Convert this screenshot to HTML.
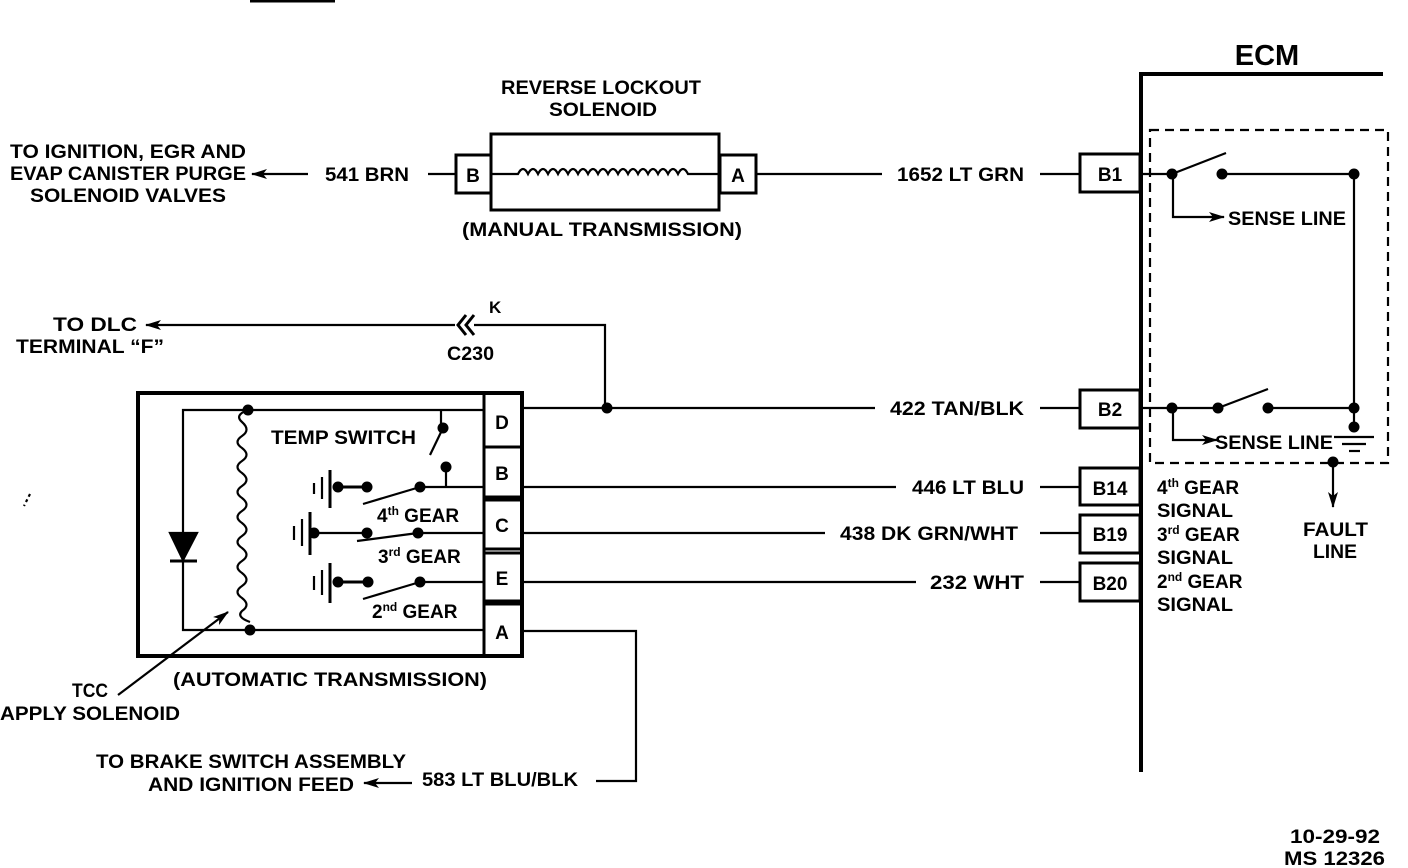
<!DOCTYPE html>
<html><head><meta charset="utf-8"><style>
html,body{margin:0;padding:0;background:#fff;}
svg{display:block;}
text{font-family:"Liberation Sans",sans-serif;font-weight:bold;font-size:19px;fill:#000;}
</style></head><body>
<svg width="1408" height="868" viewBox="0 0 1408 868" xmlns="http://www.w3.org/2000/svg">
<defs>
<marker id="ah" markerWidth="16" markerHeight="10" refX="15" refY="5" orient="auto" markerUnits="userSpaceOnUse">
<path d="M0,0 L16,5 L0,10 L4,5 Z" fill="#000"/></marker>
</defs>
<g stroke="#000" fill="none" stroke-width="2.2">
<line x1="250" y1="1" x2="335" y2="1" stroke-width="3"/>
<line x1="1139" y1="74" x2="1383" y2="74" stroke-width="4"/>
<line x1="1141" y1="72" x2="1141" y2="772" stroke-width="4"/>
<rect x="1150" y="130" width="238" height="333" stroke-dasharray="9,6"/>
<rect x="1080" y="154" width="60" height="38" stroke-width="3"/>
<line x1="1040" y1="174" x2="1080" y2="174"/>
<line x1="1141" y1="174" x2="1172" y2="174"/>
<line x1="1172" y1="174" x2="1226" y2="153"/>
<line x1="1222" y1="174" x2="1354" y2="174"/>
<line x1="1354" y1="174" x2="1354" y2="428"/>
<polyline points="1173,174 1173,217 1224,217" marker-end="url(#ah)"/>
<rect x="1080" y="390" width="60" height="38" stroke-width="3"/>
<line x1="1040" y1="408" x2="1080" y2="408"/>
<line x1="1141" y1="408" x2="1218" y2="408"/>
<line x1="1218" y1="408" x2="1268" y2="389"/>
<line x1="1268" y1="408" x2="1354" y2="408"/>
<polyline points="1173,408 1173,440 1217,440" marker-end="url(#ah)"/>
<line x1="1334" y1="437" x2="1374" y2="437"/>
<line x1="1342" y1="444" x2="1366" y2="444"/>
<line x1="1349" y1="451" x2="1360" y2="451"/>
<line x1="1333" y1="462" x2="1333" y2="507" marker-end="url(#ah)"/>
<rect x="1080" y="468" width="60" height="37" stroke-width="3"/>
<rect x="1080" y="515" width="60" height="38" stroke-width="3"/>
<rect x="1080" y="563" width="60" height="38" stroke-width="3"/>
<line x1="1040" y1="487" x2="1080" y2="487"/>
<line x1="1040" y1="533" x2="1080" y2="533"/>
<line x1="1040" y1="582" x2="1080" y2="582"/>
<rect x="491" y="134" width="228" height="76" stroke-width="3"/>
<rect x="456" y="155" width="35" height="38" stroke-width="3"/>
<rect x="720" y="155" width="36" height="38" stroke-width="3"/>
<line x1="428" y1="174" x2="456" y2="174"/>
<line x1="756" y1="174" x2="882" y2="174"/>
<path d="M491,174 H518 q5,-10 10,0 q5,-10 10,0 q5,-10 10,0 q5,-10 10,0 q5,-10 10,0 q5,-10 10,0 q5,-10 10,0 q5,-10 10,0 q5,-10 10,0 q5,-10 10,0 q5,-10 10,0 q5,-10 10,0 q5,-10 10,0 q5,-10 10,0 q5,-10 10,0 q5,-10 10,0 q5,-10 10,0 H719"/>
<line x1="308" y1="174" x2="252" y2="174" marker-end="url(#ah)"/>
<line x1="455" y1="325" x2="146" y2="325" marker-end="url(#ah)"/>
<path d="M466,315 L458,325 L466,335 M474,315 L466,325 L474,335" stroke-width="3"/>
<polyline points="474,325 605,325 605,408"/>
<rect x="138" y="393" width="384" height="263" stroke-width="4"/>
<line x1="484" y1="393" x2="484" y2="656" stroke-width="3"/>
<rect x="484" y="447" width="38" height="50" stroke-width="3"/>
<rect x="484" y="500" width="38" height="49" stroke-width="3"/>
<rect x="484" y="553" width="38" height="48" stroke-width="3"/>
<line x1="484" y1="604" x2="522" y2="604" stroke-width="3"/>
<line x1="522" y1="408" x2="875" y2="408"/>
<line x1="522" y1="487" x2="896" y2="487"/>
<line x1="522" y1="533" x2="825" y2="533"/>
<line x1="522" y1="582" x2="916" y2="582"/>
<polyline points="522,631 636,631 636,781 596,781"/>
<line x1="412" y1="783" x2="364" y2="783" marker-end="url(#ah)"/>
<polyline points="484,410 183,410 183,630 484,630"/>
<path d="M170,533 H197 L183,560 Z" fill="#000"/>
<line x1="170" y1="561" x2="197" y2="561" stroke-width="3"/>
<path d="M248,410 q-14,5 -6,12 q9,8 0,14 q-9,6 0,12 q9,7 0,13 q-9,6 0,12 q9,7 0,13 q-9,6 0,12 q9,7 0,13 q-9,6 0,12 q9,7 0,13 q-9,6 0,12 q9,7 0,13 q-9,6 0,12 q9,7 0,13 q-9,6 0,12 q9,7 0,13 q-6,6 8,11"/>
<line x1="118" y1="695" x2="228" y2="612" marker-end="url(#ah)"/>
<line x1="441" y1="410" x2="441" y2="425"/>
<line x1="443" y1="428" x2="430" y2="455"/>
<line x1="446" y1="467" x2="446" y2="487"/>
<line x1="420" y1="487" x2="484" y2="487"/>
<line x1="363" y1="504" x2="420" y2="487"/>
<line x1="330" y1="470" x2="330" y2="508" stroke-width="3"/>
<line x1="322" y1="477" x2="322" y2="499"/>
<line x1="314" y1="483" x2="314" y2="494"/>
<line x1="338" y1="487" x2="367" y2="487" stroke-width="3"/>
<line x1="310" y1="512" x2="310" y2="555" stroke-width="3"/>
<line x1="302" y1="519" x2="302" y2="546"/>
<line x1="294" y1="526" x2="294" y2="540"/>
<line x1="314" y1="533" x2="367" y2="533"/>
<line x1="418" y1="533" x2="484" y2="533"/>
<line x1="357" y1="541" x2="418" y2="533"/>
<line x1="330" y1="563" x2="330" y2="603" stroke-width="3"/>
<line x1="322" y1="570" x2="322" y2="595"/>
<line x1="314" y1="576" x2="314" y2="590"/>
<line x1="338" y1="582" x2="368" y2="582" stroke-width="3"/>
<line x1="420" y1="582" x2="484" y2="582"/>
<line x1="363" y1="599" x2="420" y2="582"/>
<line x1="30" y1="494" x2="24" y2="506" stroke-dasharray="3,3"/>
</g>
<g fill="#000">
<circle cx="1172" cy="174" r="5.5"/><circle cx="1222" cy="174" r="5.5"/><circle cx="1354" cy="174" r="5.5"/>
<circle cx="1172" cy="408" r="5.5"/><circle cx="1218" cy="408" r="5.5"/><circle cx="1268" cy="408" r="5.5"/>
<circle cx="1354" cy="408" r="5.5"/><circle cx="1354" cy="427" r="5.5"/><circle cx="1333" cy="462" r="5.5"/>
<circle cx="607" cy="408" r="5.5"/>
<circle cx="248" cy="410" r="5.5"/><circle cx="250" cy="630" r="5.5"/>
<circle cx="443" cy="428" r="5.5"/><circle cx="446" cy="467" r="5.5"/><circle cx="420" cy="487" r="5.5"/>
<circle cx="338" cy="487" r="5.5"/><circle cx="367" cy="487" r="5.5"/>
<circle cx="314" cy="533" r="5.5"/><circle cx="367" cy="533" r="5.5"/><circle cx="418" cy="533" r="5.5"/>
<circle cx="338" cy="582" r="5.5"/><circle cx="368" cy="582" r="5.5"/><circle cx="420" cy="582" r="5.5"/>
</g>
<g>
<text x="1267" y="65" text-anchor="middle" style="font-size:29px">ECM</text>
<text x="1110" y="181" text-anchor="middle">B1</text>
<text x="1110" y="416" text-anchor="middle">B2</text>
<text x="1110" y="495" text-anchor="middle">B14</text>
<text x="1110" y="541" text-anchor="middle">B19</text>
<text x="1110" y="590" text-anchor="middle">B20</text>
<text x="1228" y="225" textLength="118" lengthAdjust="spacingAndGlyphs">SENSE LINE</text>
<text x="1215" y="449" textLength="118" lengthAdjust="spacingAndGlyphs">SENSE LINE</text>
<text x="1303" y="536" textLength="65" lengthAdjust="spacingAndGlyphs">FAULT</text>
<text x="1313" y="558" textLength="44" lengthAdjust="spacingAndGlyphs">LINE</text>
<text x="1157" y="494">4<tspan dy="-7" style="font-size:12px">th</tspan><tspan dy="7"> GEAR</tspan></text>
<text x="1157" y="517" textLength="76" lengthAdjust="spacingAndGlyphs">SIGNAL</text>
<text x="1157" y="541">3<tspan dy="-7" style="font-size:12px">rd</tspan><tspan dy="7"> GEAR</tspan></text>
<text x="1157" y="564" textLength="76" lengthAdjust="spacingAndGlyphs">SIGNAL</text>
<text x="1157" y="588">2<tspan dy="-7" style="font-size:12px">nd</tspan><tspan dy="7"> GEAR</tspan></text>
<text x="1157" y="611" textLength="76" lengthAdjust="spacingAndGlyphs">SIGNAL</text>
<text x="897" y="181" textLength="127" lengthAdjust="spacingAndGlyphs">1652 LT GRN</text>
<text x="890" y="415" textLength="134" lengthAdjust="spacingAndGlyphs">422 TAN/BLK</text>
<text x="912" y="494" textLength="112" lengthAdjust="spacingAndGlyphs">446 LT BLU</text>
<text x="840" y="540" textLength="178" lengthAdjust="spacingAndGlyphs">438 DK GRN/WHT</text>
<text x="930" y="589" textLength="94" lengthAdjust="spacingAndGlyphs">232 WHT</text>
<text x="501" y="94" textLength="200" lengthAdjust="spacingAndGlyphs">REVERSE LOCKOUT</text>
<text x="549" y="116" textLength="108" lengthAdjust="spacingAndGlyphs">SOLENOID</text>
<text x="473" y="182" text-anchor="middle">B</text>
<text x="738" y="182" text-anchor="middle">A</text>
<text x="462" y="236" textLength="280" lengthAdjust="spacingAndGlyphs">(MANUAL TRANSMISSION)</text>
<text x="10" y="158" textLength="236" lengthAdjust="spacingAndGlyphs">TO IGNITION, EGR AND</text>
<text x="10" y="180" textLength="236" lengthAdjust="spacingAndGlyphs">EVAP CANISTER PURGE</text>
<text x="30" y="202" textLength="196" lengthAdjust="spacingAndGlyphs">SOLENOID VALVES</text>
<text x="325" y="181" textLength="84" lengthAdjust="spacingAndGlyphs">541 BRN</text>
<text x="53" y="331" textLength="84" lengthAdjust="spacingAndGlyphs">TO DLC</text>
<text x="16" y="353" textLength="148" lengthAdjust="spacingAndGlyphs">TERMINAL “F”</text>
<text x="489" y="313" style="font-size:17px">K</text>
<text x="447" y="360" textLength="47" lengthAdjust="spacingAndGlyphs">C230</text>
<text x="502" y="429" text-anchor="middle">D</text>
<text x="502" y="480" text-anchor="middle">B</text>
<text x="502" y="532" text-anchor="middle">C</text>
<text x="502" y="585" text-anchor="middle">E</text>
<text x="502" y="639" text-anchor="middle">A</text>
<text x="271" y="444" textLength="145" lengthAdjust="spacingAndGlyphs">TEMP SWITCH</text>
<text x="377" y="522">4<tspan dy="-7" style="font-size:12px">th</tspan><tspan dy="7"> GEAR</tspan></text>
<text x="378" y="563">3<tspan dy="-7" style="font-size:12px">rd</tspan><tspan dy="7"> GEAR</tspan></text>
<text x="372" y="618">2<tspan dy="-7" style="font-size:12px">nd</tspan><tspan dy="7"> GEAR</tspan></text>
<text x="173" y="686" textLength="314" lengthAdjust="spacingAndGlyphs">(AUTOMATIC TRANSMISSION)</text>
<text x="72" y="697" textLength="36" lengthAdjust="spacingAndGlyphs">TCC</text>
<text x="0" y="720" textLength="180" lengthAdjust="spacingAndGlyphs">APPLY SOLENOID</text>
<text x="96" y="768" textLength="310" lengthAdjust="spacingAndGlyphs">TO BRAKE SWITCH ASSEMBLY</text>
<text x="148" y="791" textLength="206" lengthAdjust="spacingAndGlyphs">AND IGNITION FEED</text>
<text x="422" y="786" textLength="156" lengthAdjust="spacingAndGlyphs">583 LT BLU/BLK</text>
<text x="1290" y="843" textLength="90" lengthAdjust="spacingAndGlyphs">10-29-92</text>
<text x="1284" y="865" textLength="101" lengthAdjust="spacingAndGlyphs">MS 12326</text>
</g>
</svg>
</body></html>
